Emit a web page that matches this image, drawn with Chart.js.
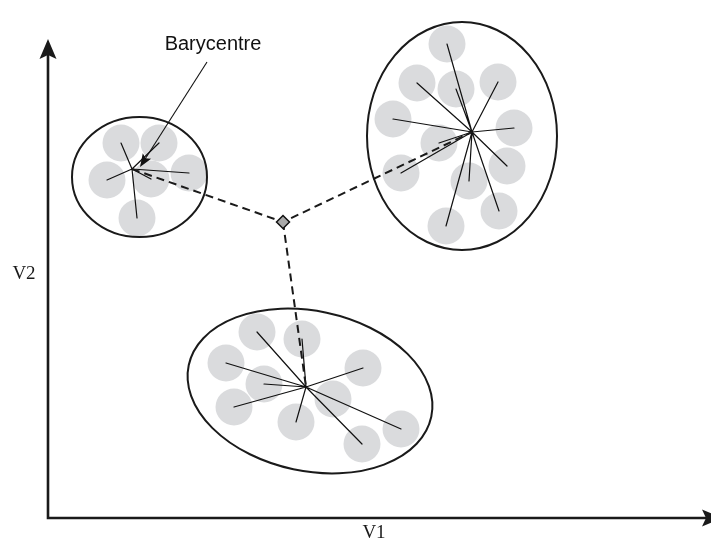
<!DOCTYPE html>
<html>
<head>
<meta charset="utf-8">
<script src="https://cdn.jsdelivr.net/npm/chart.js@4.4.0/dist/chart.umd.min.js"></script>
<style>
  body { margin: 0; background: #fff; }
  #wrap { width: 711px; height: 538px; }
</style>
</head>
<body>
<div id="wrap"><canvas id="clusterChart"></canvas></div>
<script>
// plan (V1, V2), origine au coin des axes
const centroidV1 = [84, 424, 258];
const centroidV2 = [349, 386, 131];

const leftV1 = [73, 111, 59, 103, 141, 89];
const leftV2 = [375, 375, 338, 339, 345, 300];

const rightV1 = [399, 369, 408, 450, 345, 466, 391, 353, 459, 421, 451, 398];
const rightV2 = [474, 435, 429, 436, 399, 390, 375, 345, 352, 337, 307, 292];

const bottomV1 = [209, 254, 178, 216, 315, 186, 285, 248, 353, 314];
const bottomV2 = [186, 179, 155, 134, 150, 111, 119, 96, 89, 74];

const meanV1 = [235];
const meanV2 = [296];

// enveloppes des groupes
const ellipseV1 = [91.5, 414, 262];
const ellipseV2 = [341, 382, 127];
const ellipseR1 = [67.5, 95, 124];
const ellipseR2 = [60, 114, 80];
const ellipseTilt = [0, 0, 12]; // degres

const axisLabels = ["V1", "V2"];
const annotationText = "Barycentre";

function pts(xs, ys) {
  return xs.map((v, i) => ({ x: v, y: ys[i] }));
}

// etoile : barycentre -> chaque individu -> barycentre ...
function star(k, xs, ys) {
  const c = { x: centroidV1[k], y: centroidV2[k] };
  const out = [c];
  xs.forEach((v, i) => {
    out.push({ x: v, y: ys[i] });
    out.push(c);
  });
  return out;
}

const allPoints = pts(leftV1, leftV2)
  .concat(pts(rightV1, rightV2))
  .concat(pts(bottomV1, bottomV2));

const mean = { x: meanV1[0], y: meanV2[0] };

function arrowHead(ctx, tx, ty, angle, len, half) {
  ctx.save();
  ctx.translate(tx, ty);
  ctx.rotate(angle);
  ctx.beginPath();
  ctx.moveTo(0, 0);
  ctx.lineTo(-len, -half);
  ctx.lineTo(-len * 0.8, 0);
  ctx.lineTo(-len, half);
  ctx.closePath();
  ctx.fill();
  ctx.restore();
}

const diagramPlugin = {
  id: "diagram",
  afterDatasetsDraw(chart) {
    const { ctx } = chart;
    const xs = chart.scales.x;
    const ys = chart.scales.y;
    const px = (v) => xs.getPixelForValue(v);
    const py = (v) => ys.getPixelForValue(v);
    ctx.save();

    // ellipses
    ctx.strokeStyle = "#1a1a1a";
    ctx.lineWidth = 2;
    ellipseV1.forEach((cx, i) => {
      const rx = Math.abs(px(ellipseR1[i]) - px(0));
      const ry = Math.abs(py(ellipseR2[i]) - py(0));
      ctx.beginPath();
      ctx.ellipse(px(cx), py(ellipseV2[i]), rx, ry, (ellipseTilt[i] * Math.PI) / 180, 0, 2 * Math.PI);
      ctx.stroke();
    });

    // axes
    ctx.strokeStyle = "#1a1a1a";
    ctx.fillStyle = "#1a1a1a";
    ctx.lineWidth = 2.6;
    ctx.lineCap = "square";
    const ox = px(0), oy = py(0);
    const yTop = py(479), xEnd = px(674);
    ctx.beginPath();
    ctx.moveTo(ox, oy);
    ctx.lineTo(ox, yTop + 14);
    ctx.moveTo(ox, oy);
    ctx.lineTo(xEnd - 14, oy);
    ctx.stroke();
    arrowHead(ctx, ox, yTop, -Math.PI / 2, 20, 8.5);
    arrowHead(ctx, xEnd, oy, 0, 20, 8.5);

    // libelles des axes
    ctx.font = "19px 'Liberation Serif', serif";
    ctx.textAlign = "center";
    ctx.textBaseline = "alphabetic";
    ctx.fillText(axisLabels[0], px(326), py(-20));
    ctx.fillText(axisLabels[1], px(-24), py(239));

    // annotation barycentre
    ctx.font = "20px 'Liberation Sans', Arial, sans-serif";
    ctx.fillStyle = "#111";
    ctx.fillText(annotationText, px(165), py(468));
    const sx = px(159), sy = py(456), tx = px(92), ty = py(351);
    const ang = Math.atan2(ty - sy, tx - sx);
    ctx.lineWidth = 1.1;
    ctx.lineCap = "butt";
    ctx.strokeStyle = "#111";
    ctx.beginPath();
    ctx.moveTo(sx, sy);
    ctx.lineTo(tx - Math.cos(ang) * 8, ty - Math.sin(ang) * 8);
    ctx.stroke();
    arrowHead(ctx, tx, ty, ang, 13, 5);

    ctx.restore();
  },
};

const spokeStyle = {
  showLine: true,
  pointRadius: 0,
  borderColor: "#111",
  borderWidth: 1.2,
  borderJoinStyle: "round",
  tension: 0,
  order: 3,
};

const ctxCluster = document.getElementById("clusterChart");
const clusterChart = new Chart(ctxCluster, {
  type: "scatter",
  data: {
    datasets: [
      {
        label: "individus",
        data: allPoints,
        pointRadius: 18.5,
        backgroundColor: "#dadbdd",
        borderWidth: 0,
        order: 5,
      },
      Object.assign({ label: "gauche", data: star(0, leftV1, leftV2) }, spokeStyle),
      Object.assign({ label: "droite", data: star(1, rightV1, rightV2) }, spokeStyle),
      Object.assign({ label: "bas", data: star(2, bottomV1, bottomV2) }, spokeStyle),
      {
        label: "liens",
        data: [{ x: centroidV1[0], y: centroidV2[0] }, mean, { x: centroidV1[1], y: centroidV2[1] }],
        showLine: true,
        pointRadius: 0,
        borderColor: "#1a1a1a",
        borderWidth: 2,
        borderDash: [8, 5],
        tension: 0,
        order: 2,
      },
      {
        label: "liens2",
        data: [mean, { x: centroidV1[2], y: centroidV2[2] }],
        showLine: true,
        pointRadius: 0,
        borderColor: "#1a1a1a",
        borderWidth: 2,
        borderDash: [8, 5],
        tension: 0,
        order: 2,
      },
      {
        label: "centre",
        data: [mean],
        pointStyle: "rectRot",
        pointRadius: 6.5,
        backgroundColor: "#a9a9a9",
        borderColor: "#111",
        borderWidth: 1.5,
        order: 0,
      },
    ],
  },
  options: {
    responsive: true,
    maintainAspectRatio: false,
    animation: false,
    events: [],
    layout: { padding: 0, autoPadding: false },
    plugins: {
      legend: { display: false },
      tooltip: { enabled: false },
    },
    scales: {
      x: { type: "linear", min: -48, max: 663, display: false },
      y: { type: "linear", min: -20, max: 518, display: false },
    },
  },
  plugins: [diagramPlugin],
});
</script>
</body>
</html>
